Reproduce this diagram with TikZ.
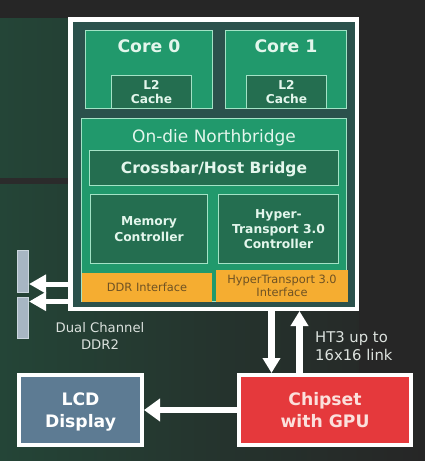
\documentclass[tikz,border=0pt]{standalone}
\usepackage{fontspec}
\setmainfont{DejaVu Sans}
\usetikzlibrary{arrows.meta}
\definecolor{bgdark}{HTML}{262626}
\definecolor{bgband}{HTML}{2B2B2B}
\definecolor{bggreen}{HTML}{244537}
\definecolor{chipteal}{HTML}{2B514C}
\definecolor{midgreen}{HTML}{21996C}
\definecolor{darkgreen}{HTML}{246E50}
\definecolor{edgegreen}{HTML}{A3E3C6}
\definecolor{mint}{HTML}{E3F6EC}
\definecolor{ifaceorange}{HTML}{F5AD31}
\definecolor{ifacetext}{HTML}{6E5224}
\definecolor{dimmfill}{HTML}{A7B6C3}
\definecolor{dimmedge}{HTML}{CBD6DE}
\definecolor{lcdfill}{HTML}{5D7B93}
\definecolor{chipred}{HTML}{E5393C}
\definecolor{chiptext}{HTML}{FBE0DC}
\definecolor{labelgray}{HTML}{DCE2DE}
\begin{document}
\begin{tikzpicture}[x=1pt,y=-1pt,
  greenbox/.style={rectangle, draw=edgegreen, line width=1pt, fill=midgreen, inner sep=0pt},
  darkbox/.style={rectangle, draw=edgegreen, line width=1pt, fill=darkgreen, inner sep=0pt, text=mint, align=center},
  ifacebox/.style={rectangle, fill=ifaceorange, inner sep=0pt, text=ifacetext, align=center, font=\fontsize{11.4}{12.5}\selectfont},
  dimmbox/.style={rectangle, draw=dimmedge, line width=1pt, fill=dimmfill, inner sep=0pt, minimum width=11pt},
  bigbox/.style={rectangle, draw=white, line width=4pt, inner sep=0pt, align=center, font=\fontsize{17.2}{21.5}\selectfont\bfseries},
  corelabel/.style={text=mint, inner sep=0pt, font=\fontsize{17.3}{20}\selectfont\bfseries},
  sidelabel/.style={text=labelgray, inner sep=0pt},
  ddrarrow/.style={draw=white, line width=5pt, -{Triangle[width=18pt,length=17pt]}},
  htarrow/.style={draw=white, line width=7pt, -{Triangle[width=17pt,length=15pt]}},
  lcdarrow/.style={draw=white, line width=6pt, -{Triangle[width=22pt,length=16pt]}}
]
\useasboundingbox (0,0) rectangle (425,461);
% background
\fill[bgdark] (0,0) rectangle (425,461);
\shade[left color=bggreen, right color=bggreen!85!bgdark] (0,18) rectangle (68,178);
\fill[bgband] (0,178) rectangle (68,184);
\shade[left color=bggreen, right color=bgdark, middle color=bggreen!45!bgdark] (0,184) rectangle (425,461);
\fill[bgdark] (359,18) rectangle (425,373);

% processor package
\node[rectangle, draw=white, line width=4.5pt, fill=chipteal, inner sep=0pt,
      minimum width=286.5pt, minimum height=289.5pt] (outer) at (213.5,164) {};

% cores
\node[greenbox, minimum width=127pt, minimum height=78pt] (core0) at (149,69.5) {};
\node[greenbox, minimum width=121pt, minimum height=78pt] (core1) at (286,69.5) {};
\node[corelabel] (core0t) at (149,46.5) {Core 0};
\node[corelabel] (core1t) at (286,46.5) {Core 1};
\node[darkbox, minimum width=80pt, minimum height=33pt, font=\fontsize{12.2}{14}\selectfont\bfseries] (l2a) at (151.5,92) {L2\\Cache};
\node[darkbox, minimum width=80pt, minimum height=33pt, font=\fontsize{12.2}{14}\selectfont\bfseries] (l2b) at (286.5,92) {L2\\Cache};

% northbridge
\node[greenbox, minimum width=265pt, minimum height=183pt] (nb) at (214,210) {};
\node[text=mint, inner sep=0pt, anchor=base, font=\fontsize{17}{20}\selectfont] (nbt) at (214,142.2) {On-die Northbridge};
\node[darkbox, minimum width=249pt, minimum height=35pt, text depth=0pt, font=\fontsize{15.5}{18}\selectfont\bfseries] (xbar) at (214,168) {Crossbar/Host Bridge};
\node[darkbox, minimum width=117pt, minimum height=69pt, font=\fontsize{12.3}{15.5}\selectfont\bfseries] (memctl) at (149,229) {Memory\\Controller};
\node[darkbox, minimum width=120pt, minimum height=69pt, font=\fontsize{12.3}{14.7}\selectfont\bfseries] (htctl) at (278.5,229) {Hyper-\\Transport 3.0\\Controller};
\node[ifacebox, minimum width=130pt, minimum height=29pt] (ddrif) at (147,287.5) {DDR Interface};
\node[ifacebox, minimum width=132pt, minimum height=32pt] (htif) at (282,286) {HyperTransport 3.0\\Interface};

% memory modules
\node[dimmbox, minimum height=42pt] (dimm1) at (23,271.5) {};
\node[dimmbox, minimum height=41pt] (dimm2) at (23,318) {};
\draw[ddrarrow] (outer.west |- 0,284) -- (dimm1.east |- 0,284);
\draw[ddrarrow] (outer.west |- 0,301.5) -- (dimm2.east |- 0,301.5);
\node[sidelabel, align=center, font=\fontsize{13.2}{17}\selectfont] (ddrlabel) at (100,335.5) {Dual Channel\\DDR2};

% chipset and display
\node[bigbox, fill=lcdfill, text=white, minimum width=123pt, minimum height=70pt] (lcd) at (80.5,410) {LCD\\\smash{Display}};
\node[bigbox, fill=chipred, text=chiptext, minimum width=172pt, minimum height=70pt] (chip) at (325,410) {Chipset\\with GPU};
\draw[htarrow] (outer.south -| 271.5,0) -- (chip.north -| 271.5,0);
\draw[htarrow] (chip.north -| 299.5,0) -- (outer.south -| 299.5,0);
\draw[lcdarrow] (chip.west) -- (lcd.east);
\node[sidelabel, anchor=west, align=left, font=\fontsize{14.8}{18}\selectfont] (htlabel) at (315,346) {HT3 up to\\16x16 link};
\end{tikzpicture}
\end{document}
